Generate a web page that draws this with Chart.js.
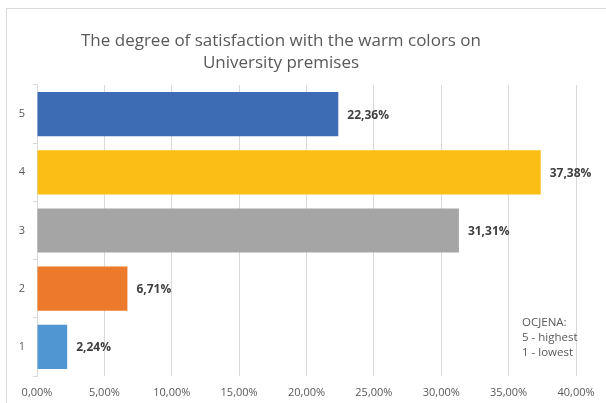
<!DOCTYPE html>
<html>
<head>
<meta charset="utf-8">
<script src="https://cdn.jsdelivr.net/npm/chart.js@4.4.1/dist/chart.umd.min.js"></script>
<style>
html,body{margin:0;padding:0;background:#fff;}
#wrap{position:relative;width:606px;height:403px;}
#frame{position:absolute;left:6px;top:8px;width:620px;height:420px;border:1px solid #d9d9d9;box-sizing:border-box;}
canvas{position:absolute;left:0;top:0;}
</style>
</head>
<body>
<div id="wrap"><div id="frame"></div><canvas id="c" width="606" height="403"></canvas></div>
<script>
const categories = ["5", "4", "3", "2", "1"];
const values = [22.36, 37.38, 31.31, 6.71, 2.24];
const barColors = ["#3D6CB5", "#FBBE14", "#A5A5A5", "#EC7A2A", "#4F96D3"];
const titleLines = ["The degree of satisfaction with the warm colors on", "University premises"];
const noteLines = ["OCJENA:", "5 - highest", "1 - lowest"];
const xTicks = [0, 5, 10, 15, 20, 25, 30, 35, 40];

const fmt = v => v.toFixed(2).replace('.', ',') + '%';
const FONT = '"Open Sans", "Liberation Sans", sans-serif';

const extras = {
  id: 'extras',
  afterDatasetsDraw(chart) {
    const ctx = chart.ctx;
    ctx.save();
    // data labels
    const meta = chart.getDatasetMeta(0);
    ctx.font = 'bold 12px ' + FONT;
    ctx.fillStyle = '#404040';
    ctx.textBaseline = 'middle';
    ctx.textAlign = 'left';
    meta.data.forEach((bar, i) => {
      ctx.fillText(fmt(values[i]), bar.x + 9, bar.y + 1);
    });
    // title
    ctx.fillStyle = '#595959';
    ctx.textAlign = 'center';
    ctx.textBaseline = 'alphabetic';
    ctx.font = '18px ' + FONT;
    const w = ctx.measureText(titleLines[0]).width;
    const size = 18 * 400 / w;
    ctx.font = size.toFixed(2) + 'px ' + FONT;
    ctx.fillText(titleLines[0], 281, 46);
    ctx.fillText(titleLines[1], 281, 68);
    // note
    ctx.font = '11.5px ' + FONT;
    ctx.textAlign = 'left';
    ctx.textBaseline = 'middle';
    noteLines.forEach((t, i) => ctx.fillText(t, 522, 323 + i * 15));
    ctx.restore();
  }
};

new Chart(document.getElementById('c'), {
  type: 'bar',
  data: {
    labels: categories,
    datasets: [{
      data: values,
      backgroundColor: barColors,
      borderWidth: 0,
      barPercentage: 0.76,
      categoryPercentage: 1
    }]
  },
  options: {
    indexAxis: 'y',
    responsive: false,
    animation: false,
    devicePixelRatio: 1,
    layout: { padding: { top: 85, right: 30, left: 0, bottom: 0 } },
    plugins: { legend: { display: false }, title: { display: false }, tooltip: { enabled: false } },
    scales: {
      x: {
        min: 0, max: 40,
        afterBuildTicks(scale) { scale.ticks = xTicks.map(v => ({ value: v })); },
        afterFit(scale) { scale.height = 27; },
        grid: { color: '#d9d9d9', drawTicks: false, lineWidth: 1 },
        border: { display: false },
        ticks: {
          padding: 10,
          color: '#595959',
          font: { family: FONT, size: 11 },
          callback: v => fmt(v),
          maxRotation: 0
        }
      },
      y: {
        afterFit(scale) { scale.width = 37; },
        grid: { drawOnChartArea: false, drawTicks: true, tickLength: 4, color: '#d9d9d9', offset: true },
        border: { display: true, color: '#d9d9d9' },
        ticks: {
          padding: 8,
          color: '#595959',
          font: { family: FONT, size: 11 }
        }
      }
    }
  },
  plugins: [extras]
});
</script>
</body>
</html>
